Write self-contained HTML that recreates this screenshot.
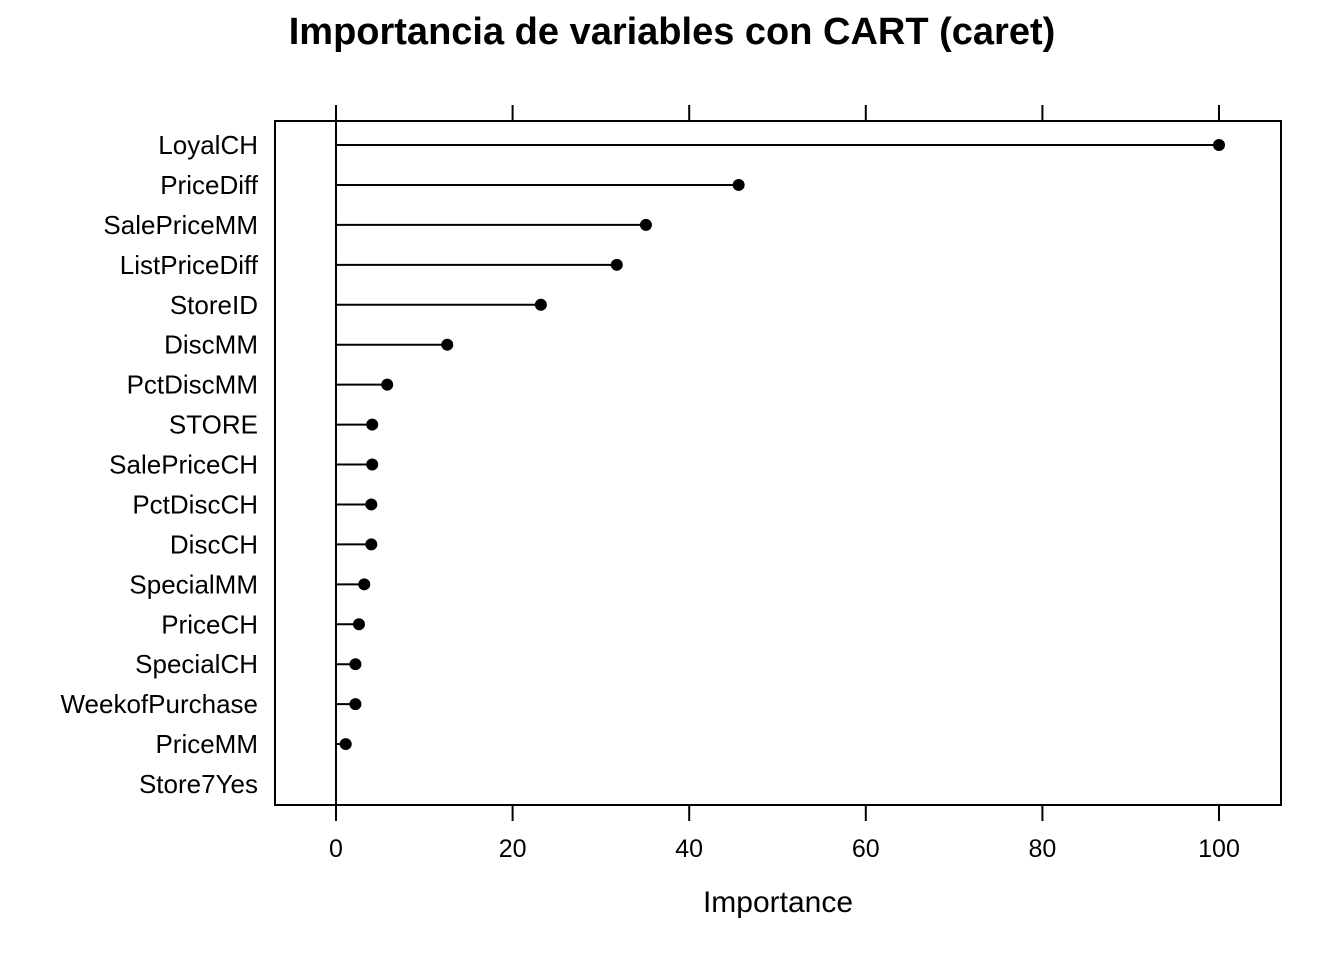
<!DOCTYPE html>
<html><head><meta charset="utf-8"><style>
html,body{margin:0;padding:0;background:#fff;}
svg text{font-family:"Liberation Sans",Arial,sans-serif;}
</style></head><body>
<svg id="chart" width="1344" height="960" xmlns="http://www.w3.org/2000/svg">
<rect width="1344" height="960" fill="#fff"/>
<text x="672" y="44" text-anchor="middle" font-size="38" font-weight="bold">Importancia de variables con CART (caret)</text>
<rect x="275" y="121" width="1006" height="684" fill="none" stroke="#000" stroke-width="2"/>
<g id="axes"></g>
<g id="marks"></g>
<text x="778" y="912" text-anchor="middle" font-size="30">Importance</text>
</svg>
<script>
const categories=["LoyalCH","PriceDiff","SalePriceMM","ListPriceDiff","StoreID","DiscMM","PctDiscMM","STORE","SalePriceCH","PctDiscCH","DiscCH","SpecialMM","PriceCH","SpecialCH","WeekofPurchase","PriceMM","Store7Yes"];
const values=[100,45.6,35.1,31.8,23.2,12.6,5.8,4.1,4.1,4.0,4.0,3.2,2.6,2.2,2.2,1.1,0];
const ticks=[0,20,40,60,80,100];
const NS="http://www.w3.org/2000/svg";
function xs(v){return 336+v*8.83;}
function ys(i){return 145+i*(784-145)/(categories.length-1);}
function mk(tag,attrs,parent){const e=document.createElementNS(NS,tag);for(const k in attrs)e.setAttribute(k,attrs[k]);parent.appendChild(e);return e;}
const ax=document.getElementById('axes'),mg=document.getElementById('marks');
ticks.forEach(t=>{
 let l=mk('line',{x1:xs(t),x2:xs(t),y1:805,y2:821,stroke:'#000','stroke-width':2},ax);
 
 
 let l2=mk('line',{x1:xs(t),x2:xs(t),y1:105,y2:121,stroke:'#000','stroke-width':2},ax);
 
 
 let tx=mk('text',{x:xs(t),y:857,'text-anchor':'middle','font-size':25},ax);tx.textContent=t;
 
 
});
let z=mk('line',{x1:xs(0),x2:xs(0),y1:121,y2:805,stroke:'#000','stroke-width':2},ax);


categories.forEach((c,i)=>{
 const y=ys(i);
 let tx=mk('text',{x:258,y:y+9,'text-anchor':'end','font-size':26},ax);tx.textContent=c;
 
 
 let l=mk('line',{x1:xs(0),x2:xs(values[i]),y1:y,y2:y,stroke:'#000','stroke-width':2},mg);
 
 
 if(values[i]>0){
 let p=mk('circle',{cx:xs(values[i]),cy:y,r:6,fill:'#000'},mg);
 
 
 }
});
</script>
</body></html>
